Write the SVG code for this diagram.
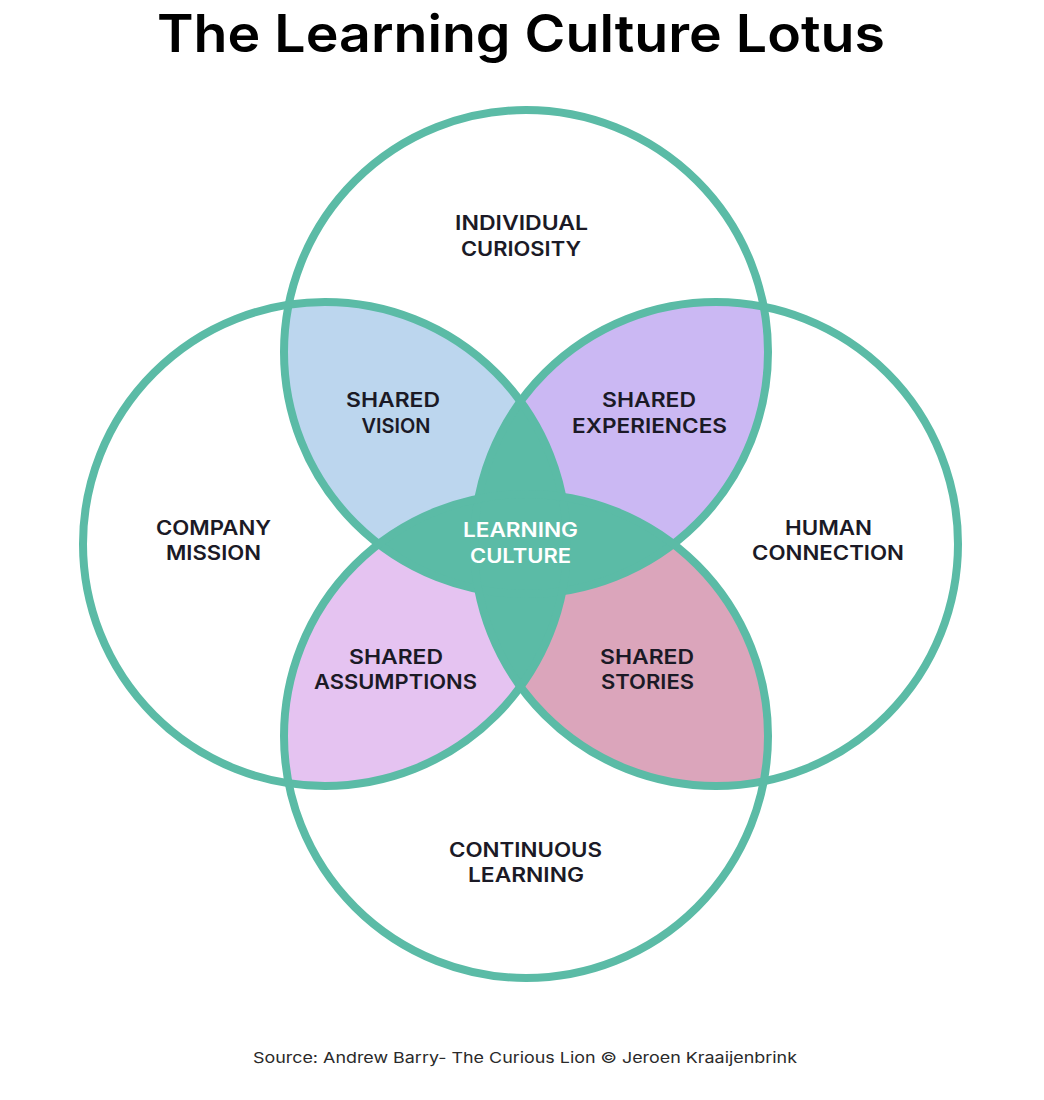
<svg xmlns="http://www.w3.org/2000/svg" width="1044" height="1100" viewBox="0 0 1044 1100">
  <style>
    .ring { fill: none; stroke: #5bbba6; stroke-width: 8; }
    .lbl { font-family: Inter, "Liberation Sans", sans-serif; font-size: 20px; font-weight: 600; fill: #1b1a26; text-anchor: middle; }
    .lbl-w { fill: #ffffff; }
    .title { font-family: Inter, "Liberation Sans", sans-serif; font-size: 52px; font-weight: 600; fill: #000000; text-anchor: middle; }
    .src { font-family: Inter, "Liberation Sans", sans-serif; font-size: 15px; font-weight: 400; fill: #2a2a2a; text-anchor: middle; }
  </style>
  <defs>
    <clipPath id="cTop"><circle cx="526" cy="352" r="242"/></clipPath>
    <clipPath id="cLeft"><circle cx="325" cy="544" r="242"/></clipPath>
    <clipPath id="cRight"><circle cx="716" cy="544" r="242"/></clipPath>
    <clipPath id="cBottom"><circle cx="526" cy="736" r="242"/></clipPath>
  </defs>
  <rect x="0" y="0" width="1044" height="1100" fill="#ffffff"/>

  <text class="title" x="521" y="52" textLength="728" lengthAdjust="spacingAndGlyphs">The Learning Culture Lotus</text>

  <g id="overlaps">
    <g id="shared-vision-fill"><circle cx="526" cy="352" r="242" fill="#bcd6ee" clip-path="url(#cLeft)"/></g>
    <g id="shared-experiences-fill"><circle cx="526" cy="352" r="242" fill="#cbb8f3" clip-path="url(#cRight)"/></g>
    <g id="shared-assumptions-fill"><circle cx="526" cy="736" r="242" fill="#e5c3f1" clip-path="url(#cLeft)"/></g>
    <g id="shared-stories-fill"><circle cx="526" cy="736" r="242" fill="#dba5bb" clip-path="url(#cRight)"/></g>
    <g id="learning-culture-fill">
      <circle cx="526" cy="352" r="242" fill="#5bbba6" clip-path="url(#cBottom)"/>
      <circle cx="325" cy="544" r="242" fill="#5bbba6" clip-path="url(#cRight)"/>
    </g>
  </g>

  <g id="circles">
    <circle id="individual-curiosity" class="ring" cx="526" cy="352" r="242"/>
    <circle id="company-mission" class="ring" cx="325" cy="544" r="242"/>
    <circle id="human-connection" class="ring" cx="716" cy="544" r="242"/>
    <circle id="continuous-learning" class="ring" cx="526" cy="736" r="242"/>
  </g>

  <g id="node-individual-curiosity">
    <text class="lbl" x="521.5" y="230" textLength="133" lengthAdjust="spacingAndGlyphs">INDIVIDUAL</text>
    <text class="lbl" x="521" y="256" textLength="120" lengthAdjust="spacingAndGlyphs">CURIOSITY</text>
  </g>
  <g id="node-shared-vision">
    <text class="lbl" x="393" y="407" textLength="94" lengthAdjust="spacingAndGlyphs">SHARED</text>
    <text class="lbl" x="396" y="433" textLength="69" lengthAdjust="spacingAndGlyphs">VISION</text>
  </g>
  <g id="node-shared-experiences">
    <text class="lbl" x="649" y="407" textLength="94" lengthAdjust="spacingAndGlyphs">SHARED</text>
    <text class="lbl" x="649.5" y="433" textLength="155" lengthAdjust="spacingAndGlyphs">EXPERIENCES</text>
  </g>
  <g id="node-company-mission">
    <text class="lbl" x="213.5" y="535" textLength="115" lengthAdjust="spacingAndGlyphs">COMPANY</text>
    <text class="lbl" x="213.5" y="560" textLength="95" lengthAdjust="spacingAndGlyphs">MISSION</text>
  </g>
  <g id="node-learning-culture">
    <text class="lbl lbl-w" x="520.5" y="537" textLength="115" lengthAdjust="spacingAndGlyphs">LEARNING</text>
    <text class="lbl lbl-w" x="520.5" y="563" textLength="101" lengthAdjust="spacingAndGlyphs">CULTURE</text>
  </g>
  <g id="node-human-connection">
    <text class="lbl" x="828.5" y="535" textLength="87" lengthAdjust="spacingAndGlyphs">HUMAN</text>
    <text class="lbl" x="828" y="560" textLength="152" lengthAdjust="spacingAndGlyphs">CONNECTION</text>
  </g>
  <g id="node-shared-assumptions">
    <text class="lbl" x="396" y="664" textLength="94" lengthAdjust="spacingAndGlyphs">SHARED</text>
    <text class="lbl" x="395.5" y="689" textLength="163" lengthAdjust="spacingAndGlyphs">ASSUMPTIONS</text>
  </g>
  <g id="node-shared-stories">
    <text class="lbl" x="647" y="664" textLength="94" lengthAdjust="spacingAndGlyphs">SHARED</text>
    <text class="lbl" x="647.5" y="689" textLength="93" lengthAdjust="spacingAndGlyphs">STORIES</text>
  </g>
  <g id="node-continuous-learning">
    <text class="lbl" x="525.5" y="857" textLength="153" lengthAdjust="spacingAndGlyphs">CONTINUOUS</text>
    <text class="lbl" x="526" y="882" textLength="116" lengthAdjust="spacingAndGlyphs">LEARNING</text>
  </g>

  <text class="src" x="525" y="1063" textLength="544" lengthAdjust="spacingAndGlyphs">Source: Andrew Barry- The Curious Lion © Jeroen Kraaijenbrink</text>
</svg>
